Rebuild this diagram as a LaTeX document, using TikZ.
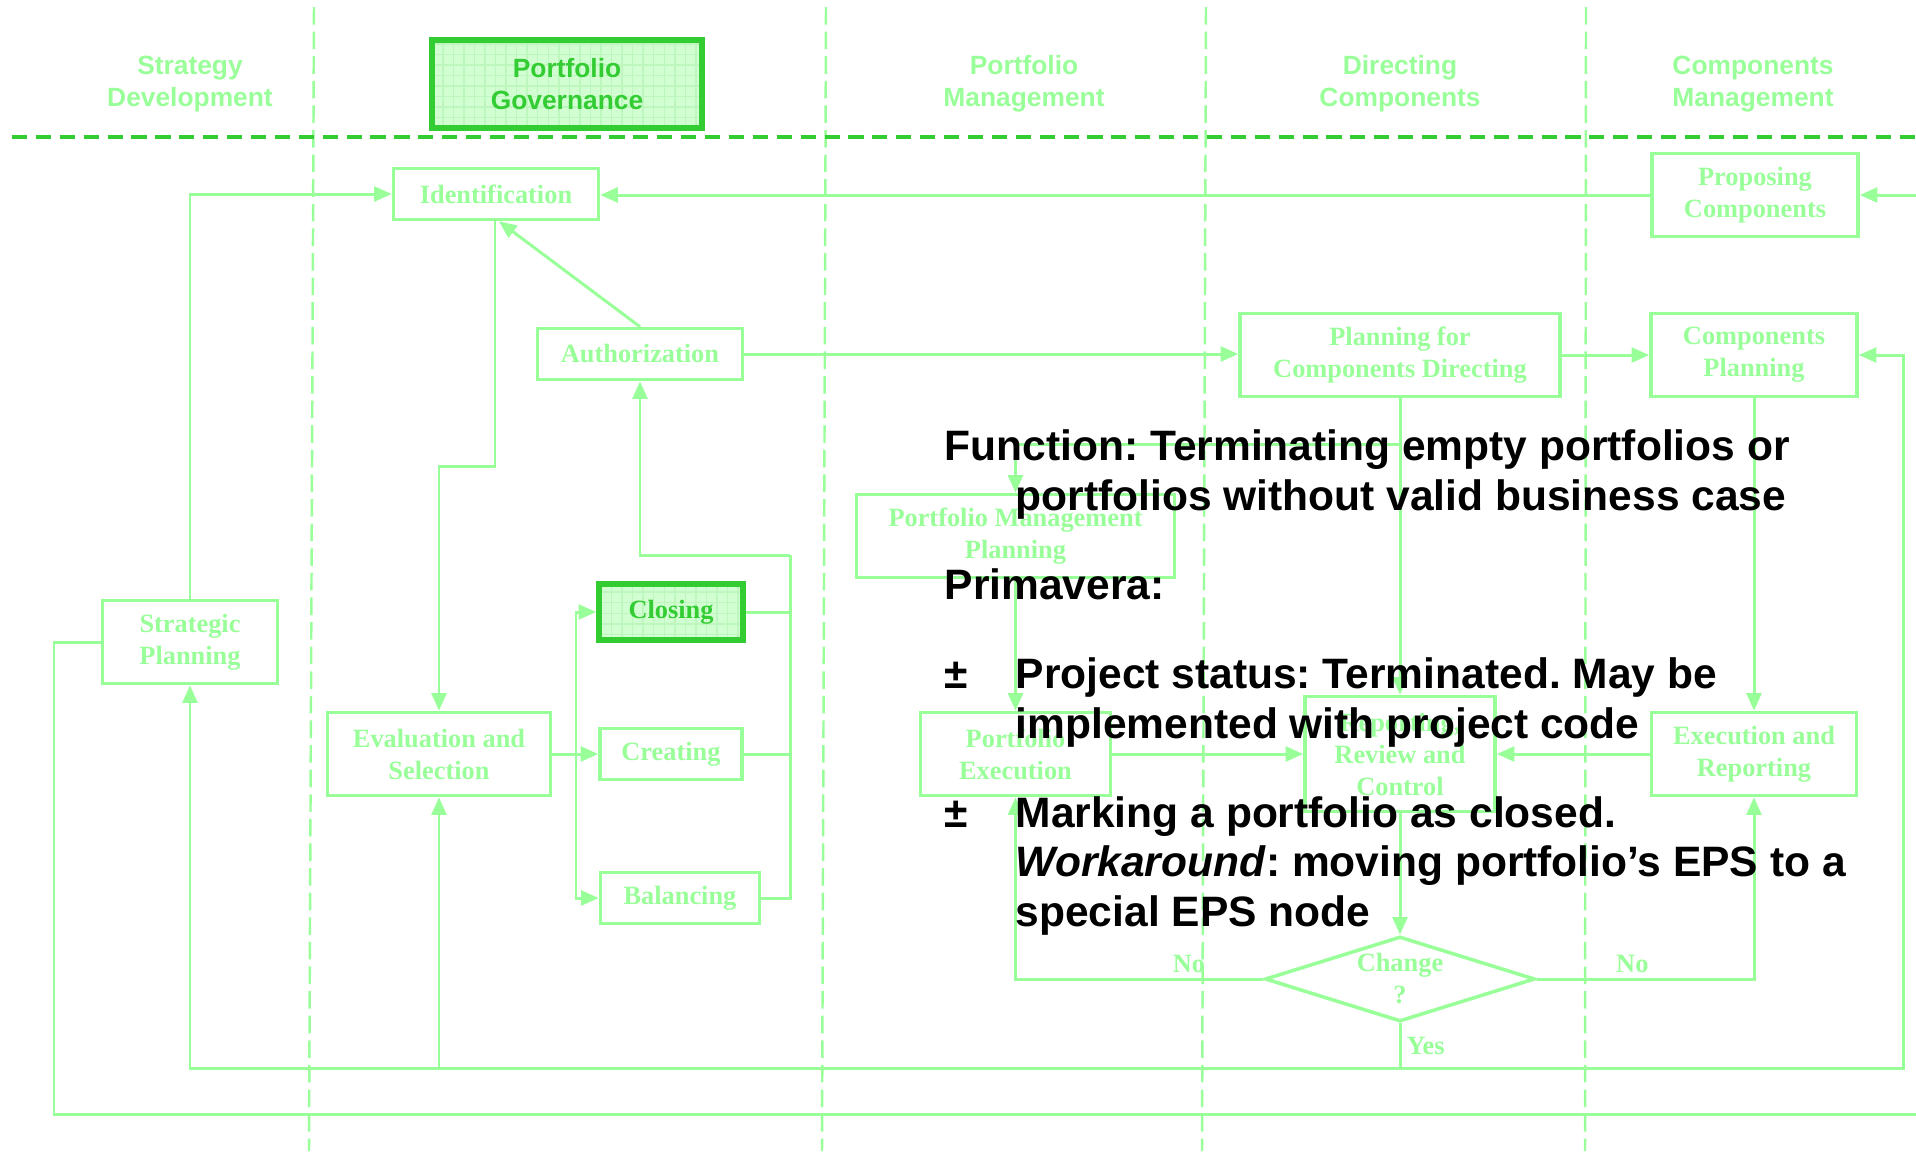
\documentclass[tikz,border=0pt]{standalone}
\usepackage{fontspec}
\setmainfont{Liberation Serif}
\setsansfont{Liberation Sans}
\frenchspacing
\usetikzlibrary{arrows.meta,shapes.geometric,patterns}

\definecolor{lgreen}{HTML}{99FF99}
\definecolor{dgreen}{HTML}{33CC33}
\definecolor{pfill}{HTML}{D2FFD2}
\definecolor{pgrid}{HTML}{BDF7BD}

\tikzset{
  box/.style={draw=lgreen, line width=1pt, fill=white, inner sep=0pt, align=center,
    text=lgreen, font=\rmfamily\bfseries\fontsize{7.5}{9.1}\selectfont},
  hilite/.style={box, draw=dgreen, line width=1.6pt, fill=none,
    preaction={fill=pfill}, preaction={pattern=grid, pattern color=pgrid}, text=dgreen},
  decision/.style={box, diamond, aspect=3.2, minimum width=2.7cm, minimum height=0.85cm},
  lanehead/.style={text=lgreen, align=center, font=\sffamily\bfseries\fontsize{7.5}{9.1}\selectfont},
  lbl/.style={text=lgreen, inner sep=0.05cm, font=\rmfamily\bfseries\fontsize{7.5}{9.1}\selectfont},
  link/.style={draw=lgreen, line width=0.85pt},
  arr/.style={link, -{Triangle[length=5pt,width=4.2pt]}},
  lane/.style={draw=lgreen, line width=0.7pt, dash pattern=on 5pt off 2pt},
  sep/.style={draw=dgreen, line width=0.9pt, dash pattern=on 4.3pt off 2.5pt},
  note/.style={inner sep=0pt, align=left, text=black,
    font=\sffamily\bfseries\fontsize{12.1}{14.2}\selectfont}
}

\begin{document}
\begin{tikzpicture}
    \useasboundingbox (0,0) rectangle (19.16,-11.51);

    % swimlanes
    \foreach \xt/\xb in {3.14/3.09, 8.26/8.22, 12.06/12.02, 15.86/15.85}
        \draw[lane] (\xt,-0.07) -- (\xb,-11.51);
    \draw[sep] (0.12,-1.37) -- (19.16,-1.37);

    \node[lanehead] (hstrat) at (1.90,-0.84) {Strategy\\Development};
    \node[hilite, font=\sffamily\bfseries\fontsize{7.5}{9.1}\selectfont, line width=1.8pt,
          minimum width=2.70cm, minimum height=0.88cm] (hgov) at (5.67,-0.84) {Portfolio\\Governance};
    \node[lanehead] (hpm) at (10.24,-0.84) {Portfolio\\Management};
    \node[lanehead] (hdc) at (14.00,-0.84) {Directing\\Components};
    \node[lanehead] (hcm) at (17.53,-0.84) {Components\\Management};

    % processes
    \node[box, minimum width=2.05cm, minimum height=0.51cm] (ident) at (4.96,-1.94) {Identification};
    \node[box, minimum width=2.05cm, minimum height=0.51cm] (auth) at (6.40,-3.54) {Authorization};
    \node[box, minimum width=2.06cm, minimum height=0.83cm] (propose) at (17.55,-1.95) {Proposing\\Components};
    \node[box, minimum width=3.20cm, minimum height=0.83cm] (pcd) at (14.00,-3.55) {Planning for\\Components Directing};
    \node[box, minimum width=2.06cm, minimum height=0.83cm] (cplan) at (17.54,-3.55) {Components\\Planning};
    \node[box, minimum width=1.75cm, minimum height=0.83cm] (strat) at (1.90,-6.42) {Strategic\\Planning};
    \node[hilite, minimum width=1.44cm, minimum height=0.56cm] (closing) at (6.71,-6.12) {Closing};
    \node[box, minimum width=2.23cm, minimum height=0.83cm] (evalsel) at (4.39,-7.54) {Evaluation and\\Selection};
    \node[box, minimum width=1.42cm, minimum height=0.51cm] (creating) at (6.71,-7.54) {Creating};
    \node[box, minimum width=1.59cm, minimum height=0.51cm] (balancing) at (6.80,-8.98) {Balancing};
    \node[box, minimum width=3.18cm, minimum height=0.83cm] (pmp) at (10.155,-5.36) {Portfolio Management\\Planning};
    \node[box, minimum width=1.90cm, minimum height=0.83cm] (pexec) at (10.155,-7.54) {Portfolio\\Execution};
    \node[box, minimum width=1.90cm, minimum height=1.15cm] (review) at (14.00,-7.54) {Reporting,\\Review and\\Control};
    \node[box, minimum width=2.05cm, minimum height=0.83cm] (execrep) at (17.54,-7.54) {Execution and\\Reporting};
    \node[decision] (change) at (14.00,-9.79) {Change\\?};

    \coordinate (rin) at (19.16,-1.95);
    \coordinate (cbus) at (7.90,-5.55);
    \coordinate (ebus) at (5.76,-7.54);
    \coordinate (yes) at (14.00,-10.68);
    \coordinate (rbus) at (19.03,-10.68);
    \coordinate (lout) at (0.54,-11.14);
    \coordinate (rout) at (19.16,-11.14);

    % flows
    \draw[arr] (strat.north) |- (ident.west);
    \draw[arr] (rin) -- (propose.east);
    \draw[arr] (propose.west) -- (propose.west -| ident.east);
    \draw[arr] (auth.north) -- ([xshift=0.03cm]ident.south);
    \draw[arr] ([xshift=-0.01cm]ident.south) -- ++(0,-2.45) -| (evalsel.north);
    \draw[arr] (auth.east) -- (auth.east -| pcd.west);
    \draw[arr] (pcd) -- (cplan);

    \draw[arr] (evalsel) -- (creating);
    \draw[arr] (ebus) |- (closing.west);
    \draw[arr] (ebus) |- (balancing.west);
    \draw[link] (balancing.east) -| (cbus);
    \draw[link] (creating.east) -- (creating.east -| cbus);
    \draw[link] (closing.east) -- (closing.east -| cbus);
    \draw[arr] (cbus) -| (auth.south);

    \draw[arr] (pcd.south) -- (review.north);
    \draw[arr] (pcd.south) ++(0,-0.46) -| (pmp.north);
    \draw[arr] (pmp) -- (pexec);
    \draw[arr] (pexec) -- (review);
    \draw[arr] (execrep) -- (review);
    \draw[arr] (cplan) -- (execrep);
    \draw[arr] (review) -- (change);

    \draw[arr] (change.west) -| node[lbl, pos=0.15, above] (nol) {No} (pexec.south);
    \draw[arr] (change.east) -| node[lbl, pos=0.22, above] (nor) {No} (execrep.south);
    \draw[link] (change.south) -- node[lbl, right] (yeslbl) {Yes} (yes);
    \draw[arr] (yes) -| (strat.south);
    \draw[arr] (yes) -| (evalsel.south);
    \draw[arr] (yes) -- (rbus) |- (cplan.east);
    \draw[link] (strat.west) -| (lout) -- (rout);

    % overlay text
    \node[note, anchor=north west] (func) at (9.44,-4.29) {Function: Terminating empty portfolios or\\
        \hspace*{0.71cm}portfolios without valid business case\\[0.39cm]
        Primavera:\\[0.39cm]
        \makebox[0.71cm][l]{±}Project status: Terminated. May be\\
        \hspace*{0.71cm}implemented with project code\\[0.39cm]
        \makebox[0.71cm][l]{±}Marking a portfolio as closed.\\
        \hspace*{0.71cm}\textit{Workaround}: moving portfolio’s EPS to a\\
        \hspace*{0.71cm}special EPS node};

\end{tikzpicture}
\end{document}
